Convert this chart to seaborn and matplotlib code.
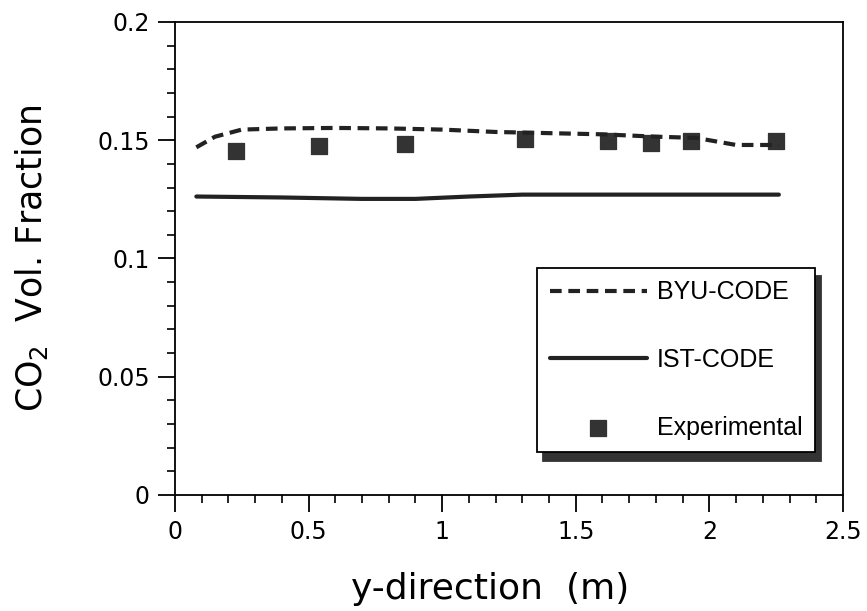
import numpy as np
import pandas as pd
import matplotlib
matplotlib.use("Agg")
import matplotlib.pyplot as plt
import seaborn as sns
from matplotlib.ticker import MultipleLocator, FormatStrFormatter

# BYU-CODE prediction (dashed)
byu_y = [0.08, 0.15, 0.25, 0.4, 0.6, 0.8, 1.0, 1.2, 1.4, 1.6, 1.8, 1.95, 2.1, 2.26]
byu_co2 = [0.1470, 0.1515, 0.1545, 0.1550, 0.1552, 0.1550, 0.1545, 0.1535, 0.1530, 0.1525, 0.1515, 0.1510, 0.1480, 0.1480]

# IST-CODE prediction (solid)
ist_y = [0.08, 0.4, 0.7, 0.9, 1.1, 1.3, 1.6, 2.0, 2.26]
ist_co2 = [0.1262, 0.1258, 0.1252, 0.1252, 0.1262, 0.1270, 0.1270, 0.1270, 0.1270]

# Experimental points
exp_y = [0.23, 0.54, 0.86, 1.31, 1.62, 1.78, 1.93, 2.25]
exp_co2 = [0.1455, 0.1475, 0.1485, 0.1505, 0.1495, 0.1490, 0.1498, 0.1498]

sns.set_theme(style="ticks")
plt.rcParams['font.family'] = ['DejaVu Sans']
plt.rcParams['text.color'] = 'black'
plt.rcParams['axes.labelcolor'] = 'black'
plt.rcParams['xtick.color'] = 'black'
plt.rcParams['ytick.color'] = 'black'

fig = plt.figure(figsize=(8.67, 6.11), dpi=100)
ax = fig.add_axes([0.2018, 0.1899, 0.9723 - 0.2018, 0.964 - 0.1899])

byu_df = pd.DataFrame({'y': byu_y, 'co2': byu_co2})
ist_df = pd.DataFrame({'y': ist_y, 'co2': ist_co2})
exp_df = pd.DataFrame({'y': exp_y, 'co2': exp_co2})

sns.lineplot(data=byu_df, x='y', y='co2', ax=ax, color='#222222', lw=3,
             label='BYU-CODE')
ax.lines[-1].set_dashes([2.8, 1.6])
sns.lineplot(data=ist_df, x='y', y='co2', ax=ax, color='#222222', lw=3,
             label='IST-CODE')
sns.scatterplot(data=exp_df, x='y', y='co2', ax=ax, marker='s', s=130,
                color='#333333', edgecolor='#333333', label='Experimental')

ax.set_xlim(0, 2.5)
ax.set_ylim(0, 0.2)
ax.xaxis.set_major_locator(MultipleLocator(0.5))
ax.xaxis.set_minor_locator(MultipleLocator(0.1))
ax.yaxis.set_major_locator(MultipleLocator(0.05))
ax.yaxis.set_minor_locator(MultipleLocator(0.01))
ax.xaxis.set_major_formatter(FormatStrFormatter('%g'))
ax.yaxis.set_major_formatter(FormatStrFormatter('%g'))
ax.tick_params(which='major', length=12, width=1.3, labelsize=17,
               direction='out', pad=6)
ax.tick_params(which='minor', length=6, width=1.2, direction='out')
for sp in ax.spines.values():
    sp.set_color('black')
    sp.set_linewidth(1.3)

ax.set_xlabel('y-direction  (m)', fontsize=26, labelpad=20, x=0.472)
ax.set_ylabel(r'CO$_2$  Vol. Fraction', fontsize=25, labelpad=34)

leg = ax.legend(loc='upper left', bbox_to_anchor=(0.542, 0.48),
                frameon=True, fancybox=False, edgecolor='black',
                framealpha=1, handlelength=3.9,
                labelspacing=1.75, borderpad=0.5, handletextpad=0.4,
                borderaxespad=0,
                prop={'family': 'Liberation Sans', 'size': 18},
                shadow={'color': '#333333', 'alpha': 1, 'ox': 4, 'oy': -6})
leg.get_frame().set_linewidth(1.3)

fig.savefig('out.png', dpi=100)
